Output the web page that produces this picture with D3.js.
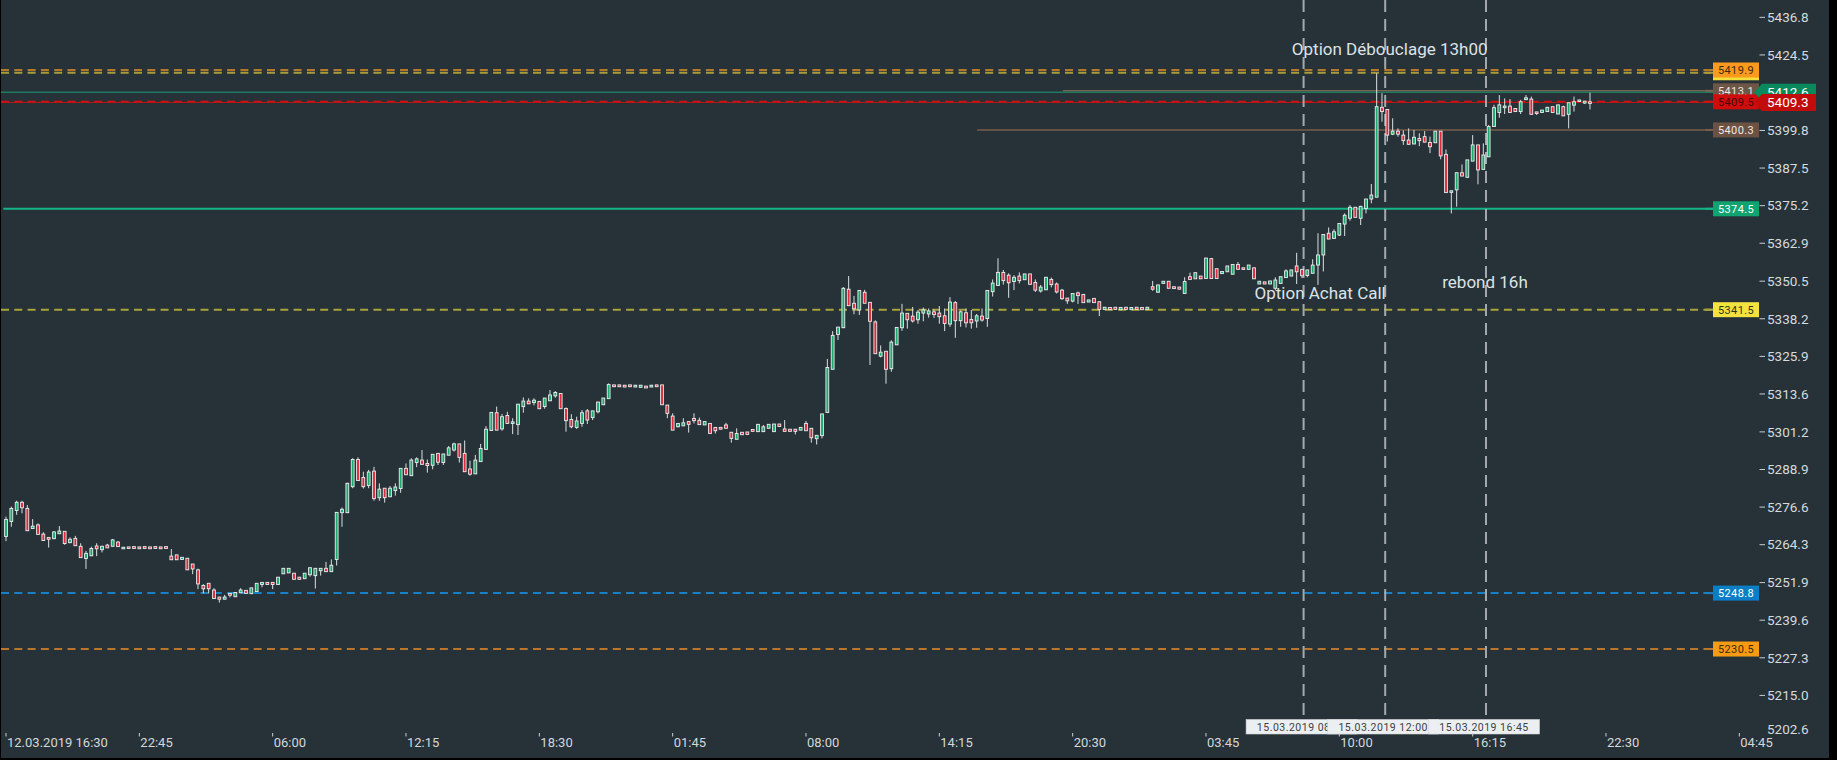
<!DOCTYPE html>
<html lang="fr">
<head>
    <meta charset="utf-8">
    <title>Candles 15 min</title>
    <script src="https://d3js.org/d3.v7.min.js"></script>
    <style>
        html, body { margin: 0; padding: 0; background: #000; }
        svg { display: block; font-family: Roboto, "Noto Sans", sans-serif; }
    </style>
</head>
<body>
<div id="chart"></div>
<script>
// Data: 15 min candles, 12.03.2019 16:30 onwards
const openVals = [
    5267.3,5272.2,5275.8,5278.5,5276.5,5269.9,5271.1,5268.1,5267.0,5266.6,
    5268.2,5269.0,5265.3,5266.7,5264.1,5260.1,5261.0,5264.2,5263.0,5264.5,
    5264.1,5265.5,5263.6,5263.9,5264.0,5263.9,5264.0,5263.9,5264.0,5263.9,
    5264.0,5260.9,5261.3,5259.8,5260.2,5258.3,5256.4,5251.3,5252.0,5249.8,
    5247.5,5246.8,5248.7,5247.6,5248.9,5249.7,5248.6,5249.3,5251.6,5252.3,
    5252.3,5251.6,5255.1,5255.4,5255.3,5254.0,5253.5,5254.8,5254.5,5256.1,
    5256.9,5255.8,5259.8,5275.1,5275.1,5283.6,5292.5,5286.6,5284.0,5288.7,
    5280.0,5283.1,5280.3,5282.3,5283.0,5289.6,5287.2,5291.5,5292.3,5291.2,
    5290.6,5294.5,5291.5,5293.9,5295.6,5297.6,5294.5,5289.4,5287.8,5291.8,
    5295.8,5302.0,5307.8,5302.5,5306.9,5304.6,5303.9,5309.8,5311.6,5311.1,
    5311.5,5309.8,5311.7,5313.3,5314.1,5309.2,5305.6,5303.0,5304.3,5308.4,
    5306.2,5308.1,5310.4,5312.4,5316.9,5316.9,5316.8,5316.9,5316.2,5316.1,
    5316.5,5316.2,5316.9,5316.9,5310.3,5306.7,5303.2,5303.5,5304.9,5305.9,
    5305.3,5303.8,5304.3,5303.0,5303.0,5303.8,5301.4,5299.1,5301.4,5301.5,
    5302.3,5301.6,5301.6,5302.7,5301.6,5304.1,5302.5,5302.4,5302.4,5302.1,
    5304.3,5302.7,5299.3,5300.3,5307.9,5322.0,5333.4,5335.6,5348.2,5343.6,
    5341.4,5347.2,5343.9,5337.5,5326.3,5327.9,5322.2,5330.0,5335.6,5340.3,
    5339.4,5338.2,5340.4,5340.1,5340.8,5340.4,5339.5,5336.8,5343.8,5337.9,
    5340.5,5338.3,5337.8,5339.4,5338.6,5347.4,5349.4,5353.7,5352.8,5350.7,
    5352.5,5351.3,5353.2,5350.4,5347.6,5348.0,5351.4,5349.9,5347.9,5345.3,
    5344.3,5347.0,5346.5,5344.0,5345.2,5344.1,5341.6,5342.2,5342.3,5341.5,
    5342.3,5341.5,5342.3,5342.2,5341.6,5349.0,5347.2,5350.1,5350.8,5349.0,
    5348.9,5346.8,5352.3,5351.6,5352.5,5351.7,5358.2,5354.9,5353.3,5353.9,
    5353.1,5356.3,5355.2,5354.7,5355.2,5349.9,5350.6,5349.9,5348.5,5350.1,
    5352.0,5352.5,5355.8,5354.7,5352.7,5353.4,5356.1,5359.4,5366.5,5364.8,
    5365.9,5369.5,5371.4,5375.0,5371.4,5374.6,5377.7,5378.3,5407.7,5407.0,
    5398.9,5399.9,5398.6,5397.0,5395.7,5397.5,5398.1,5396.2,5396.1,5399.9,
    5392.3,5380.0,5380.7,5386.3,5384.8,5390.1,5395.4,5387.4,5391.5,5401.4,
    5406.0,5407.9,5408.1,5407.3,5406.3,5410.2,5410.4,5406.2,5406.0,5406.3,
    5407.9,5405.5,5407.9,5405.4,5408.4,5409.6,5409.1,5409.5
];
const highVals = [
    5273.8,5277.1,5279.0,5279.0,5277.6,5273.0,5271.6,5268.7,5267.0,5269.1,
    5270.7,5269.0,5267.0,5267.5,5265.1,5262.6,5264.0,5265.1,5264.3,5264.9,
    5266.5,5265.8,5263.8,5263.9,5264.0,5263.9,5264.0,5263.9,5264.0,5263.9,
    5264.0,5263.2,5261.3,5260.5,5260.2,5258.3,5256.8,5251.7,5252.0,5250.4,
    5247.5,5248.2,5248.7,5249.0,5250.4,5249.7,5250.5,5252.0,5252.3,5252.3,
    5252.3,5254.0,5256.9,5256.9,5255.3,5254.0,5255.3,5257.1,5256.9,5256.9,
    5259.0,5259.8,5275.2,5276.8,5284.9,5292.9,5293.2,5288.5,5289.1,5290.1,
    5284.7,5283.1,5283.8,5284.7,5289.6,5291.2,5292.9,5293.2,5295.6,5292.5,
    5294.2,5294.5,5294.3,5296.9,5298.0,5297.6,5298.7,5292.1,5294.0,5297.6,
    5303.4,5307.9,5309.8,5307.4,5308.1,5306.0,5310.6,5312.8,5312.5,5312.5,
    5311.5,5312.6,5315.2,5314.9,5314.1,5309.5,5307.3,5306.5,5308.7,5309.0,
    5308.4,5311.3,5312.6,5317.4,5316.9,5316.9,5316.8,5316.9,5316.8,5316.8,
    5316.5,5316.8,5316.9,5316.9,5310.3,5307.6,5304.3,5306.0,5304.9,5307.6,
    5306.2,5304.9,5304.3,5303.0,5303.0,5304.5,5301.4,5302.7,5301.4,5301.5,
    5302.3,5304.0,5303.8,5304.0,5304.1,5304.1,5305.4,5302.4,5302.4,5303.0,
    5305.1,5302.7,5300.4,5307.4,5325.4,5334.5,5335.8,5348.9,5352.5,5346.0,
    5347.8,5348.0,5343.9,5338.0,5329.8,5327.9,5331.5,5335.7,5343.4,5340.3,
    5342.4,5341.4,5342.2,5341.9,5341.6,5342.7,5341.9,5345.6,5344.3,5341.2,
    5341.9,5341.4,5340.1,5341.9,5347.8,5351.4,5358.3,5354.5,5353.4,5352.8,
    5353.7,5353.2,5353.2,5351.4,5349.6,5352.1,5352.0,5350.4,5348.3,5345.3,
    5346.8,5347.4,5346.5,5344.7,5345.2,5344.1,5342.3,5342.2,5342.3,5342.2,
    5342.3,5342.2,5342.3,5342.2,5342.3,5350.9,5349.6,5350.8,5350.8,5349.0,
    5348.9,5352.1,5353.6,5353.6,5352.5,5358.4,5358.4,5354.9,5354.0,5355.8,
    5356.3,5357.1,5355.2,5356.1,5355.2,5350.8,5350.6,5350.9,5352.1,5352.3,
    5354.7,5354.5,5360.1,5354.7,5354.5,5358.0,5366.5,5366.1,5368.4,5367.8,
    5369.7,5373.0,5375.7,5375.0,5375.5,5377.7,5382.6,5418.8,5412.3,5407.0,
    5404.1,5400.8,5400.1,5400.8,5400.3,5399.2,5399.9,5398.1,5399.9,5399.9,
    5393.9,5380.4,5386.3,5389.0,5390.5,5398.6,5395.4,5395.9,5401.9,5408.5,
    5411.7,5410.6,5410.4,5407.3,5410.1,5411.7,5411.2,5406.2,5406.8,5407.7,
    5407.9,5408.5,5408.2,5409.2,5411.2,5410.1,5409.8,5412.5
];
const lowVals = [
    5265.8,5270.5,5274.4,5274.9,5269.2,5269.9,5268.0,5266.0,5263.7,5266.4,
    5268.2,5264.6,5265.1,5264.3,5260.4,5256.7,5260.9,5260.9,5262.1,5263.6,
    5264.1,5264.0,5263.6,5263.4,5263.4,5263.3,5263.4,5263.3,5263.4,5263.3,
    5263.4,5259.7,5259.7,5259.8,5256.4,5255.0,5250.1,5248.7,5248.7,5247.0,
    5245.7,5246.8,5247.4,5247.6,5248.9,5248.7,5248.6,5249.3,5250.7,5251.6,
    5250.1,5251.6,5255.1,5255.4,5253.3,5253.3,5253.5,5254.2,5250.3,5254.5,
    5255.8,5255.8,5257.8,5270.5,5275.1,5283.1,5285.6,5283.0,5283.1,5279.0,
    5279.0,5278.4,5280.3,5280.7,5281.6,5287.5,5287.2,5290.0,5290.9,5288.2,
    5289.3,5290.7,5290.7,5293.9,5295.1,5291.5,5288.5,5287.2,5287.8,5291.8,
    5295.8,5301.8,5302.1,5301.9,5304.3,5300.8,5300.5,5307.8,5310.7,5310.2,
    5309.1,5309.1,5311.7,5312.7,5309.1,5301.6,5302.7,5302.5,5303.2,5304.1,
    5305.4,5307.6,5310.4,5312.4,5316.3,5316.3,5316.2,5316.3,5316.2,5316.1,
    5315.9,5316.2,5316.3,5310.4,5306.0,5302.1,5303.0,5303.5,5301.3,5304.3,
    5303.9,5303.8,5301.0,5301.0,5302.4,5302.7,5298.0,5299.1,5300.6,5300.7,
    5301.7,5301.6,5301.6,5302.7,5301.6,5303.3,5301.7,5301.7,5300.7,5302.1,
    5301.9,5298.0,5297.4,5299.4,5307.9,5322.0,5331.6,5335.6,5342.8,5340.0,
    5339.8,5343.6,5323.4,5327.1,5325.9,5317.3,5321.2,5330.0,5334.6,5335.3,
    5337.3,5336.9,5337.7,5338.9,5338.8,5336.9,5334.5,5335.9,5332.3,5335.9,
    5335.7,5335.3,5335.6,5337.6,5335.9,5345.8,5349.4,5349.7,5345.4,5347.9,
    5350.1,5351.3,5349.8,5347.3,5347.1,5348.0,5348.8,5346.8,5344.7,5343.4,
    5343.9,5343.4,5343.8,5344.0,5343.8,5339.4,5341.6,5341.5,5341.6,5341.5,
    5341.6,5341.5,5341.6,5341.5,5341.6,5347.7,5347.2,5350.1,5348.5,5348.4,
    5348.2,5346.8,5351.4,5351.6,5351.6,5351.7,5351.7,5351.7,5353.3,5353.9,
    5353.1,5354.7,5354.7,5354.7,5351.6,5349.9,5349.9,5349.9,5347.9,5350.1,
    5352.0,5352.5,5349.9,5351.8,5352.1,5353.4,5349.6,5354.0,5364.6,5364.8,
    5365.6,5365.6,5370.6,5371.7,5369.2,5373.0,5376.3,5378.3,5403.0,5396.5,
    5398.6,5398.1,5395.4,5395.4,5395.7,5395.0,5396.3,5392.7,5396.1,5390.7,
    5379.8,5373.0,5375.2,5385.2,5384.8,5390.1,5382.5,5387.4,5391.5,5401.4,
    5404.3,5405.5,5406.0,5406.3,5405.5,5410.2,5405.4,5405.2,5406.0,5406.3,
    5406.0,5405.5,5404.9,5400.8,5406.3,5409.6,5408.8,5407.0
];
const closeVals = [
    5272.9,5276.5,5278.5,5276.7,5269.2,5270.7,5268.0,5266.0,5266.4,5268.8,
    5269.1,5265.0,5266.4,5264.3,5260.4,5261.8,5263.4,5263.3,5264.1,5263.6,
    5266.2,5264.0,5263.8,5263.4,5263.4,5263.3,5263.4,5263.3,5263.4,5263.3,
    5263.4,5259.7,5259.7,5260.5,5256.4,5256.7,5251.8,5250.2,5250.2,5247.0,
    5246.8,5247.5,5248.1,5249.0,5249.8,5248.7,5250.5,5252.0,5252.3,5251.6,
    5251.6,5254.0,5256.9,5256.9,5253.3,5253.3,5255.3,5257.1,5256.9,5256.9,
    5255.8,5257.9,5275.2,5276.2,5284.7,5292.5,5285.6,5283.6,5288.4,5279.7,
    5282.8,5280.0,5283.1,5283.5,5289.6,5287.5,5292.3,5292.7,5290.9,5290.5,
    5294.2,5291.6,5294.3,5296.3,5297.6,5293.2,5288.5,5287.7,5292.3,5296.1,
    5302.4,5307.9,5302.1,5306.5,5304.3,5304.8,5310.6,5311.6,5310.7,5311.9,
    5309.1,5312.6,5313.6,5314.4,5309.1,5305.2,5303.2,5305.1,5307.8,5305.4,
    5308.4,5311.3,5312.6,5317.0,5316.3,5316.3,5316.2,5316.3,5316.8,5316.8,
    5315.9,5316.8,5316.3,5310.4,5307.6,5302.1,5304.3,5304.5,5304.0,5305.2,
    5303.9,5304.9,5301.0,5301.9,5302.4,5302.7,5299.4,5301.0,5300.6,5300.7,
    5301.7,5304.0,5303.2,5304.0,5304.1,5303.3,5301.7,5301.7,5301.7,5303.0,
    5301.9,5299.6,5300.4,5307.4,5322.6,5333.1,5335.8,5348.5,5342.8,5341.8,
    5347.8,5343.6,5337.7,5327.1,5327.6,5322.0,5330.9,5335.7,5340.4,5338.2,
    5337.8,5340.7,5341.4,5341.1,5339.9,5339.2,5337.0,5344.0,5337.9,5340.8,
    5337.2,5337.2,5339.5,5338.1,5347.8,5350.2,5353.7,5351.0,5350.3,5352.1,
    5351.0,5353.2,5349.8,5347.9,5348.9,5352.1,5349.7,5347.3,5345.1,5344.4,
    5346.8,5346.1,5343.8,5344.7,5343.8,5341.6,5342.3,5341.5,5341.6,5342.2,
    5341.6,5342.2,5341.6,5341.5,5342.3,5348.2,5349.6,5350.8,5348.5,5348.4,
    5348.2,5350.7,5351.4,5353.6,5351.6,5358.4,5351.7,5351.7,5354.0,5355.8,
    5356.3,5354.7,5354.7,5356.1,5351.6,5350.8,5349.9,5350.9,5351.2,5352.3,
    5354.2,5354.5,5353.9,5352.6,5354.5,5356.1,5359.4,5366.1,5364.6,5367.0,
    5369.7,5372.4,5375.0,5371.7,5375.3,5377.7,5379.0,5407.9,5406.3,5398.6,
    5399.9,5398.9,5396.8,5395.6,5397.9,5396.8,5396.3,5394.8,5399.9,5391.8,
    5379.8,5380.4,5386.3,5385.2,5390.5,5395.4,5387.2,5392.1,5401.4,5407.6,
    5408.5,5408.1,5406.0,5406.3,5409.5,5410.8,5405.4,5405.8,5406.8,5407.7,
    5406.0,5408.5,5404.9,5409.2,5409.5,5410.1,5409.7,5409.3
];

// Axis labels (one time label every 25 bars)
const xTickLabels = ["12.03.2019 16:30", "22:45", "06:00", "12:15", "18:30", "01:45", "08:00",
    "14:15", "20:30", "03:45", "10:00", "16:15", "22:30", "04:45"];
const yTickLabels = ["5436.8", "5424.5", "5412.2", "5399.8", "5387.5", "5375.2", "5362.9", "5350.5",
    "5338.2", "5325.9", "5313.6", "5301.2", "5288.9", "5276.6", "5264.3", "5251.9", "5239.6",
    "5227.3", "5215.0", "5202.6"];

// Horizontal levels and the bar where each one starts (null = whole chart)
const levelValues = [5419.0, 5419.9, 5413.1, 5412.6, 5409.5, 5400.3, 5374.5, 5341.5, 5248.8, 5230.5];
const levelStart = [null, null, 198.2, null, null, 182.1, -0.5, null, null, null];

// Vertical markers (bar position) and their date labels
const markerBars = [243.3, 258.6, 277.5];
const markerLabels = ["15.03.2019 08:00", "15.03.2019 12:00", "15.03.2019 16:45"];

// Text notes
const noteTexts = ["Option Débouclage 13h00", "Option Achat Call", "rebond 16h"];
const noteBars = [241.1, 234.1, 269.3];
const noteValues = [5426.7, 5346.9, 5350.7];

// Styles
const levelStyles = [
    { stroke: "#a99c3a", dash: true,  box: "#f3df3b", text: "#3a3418" },
    { stroke: "#b4782b", dash: true,  box: "#fb9a1d", text: "#3d2a10" },
    { stroke: "#7c6453", dash: false, box: "#6e5647", text: "#ece4de" },
    { stroke: "#1e7b5d", dash: false, box: null },
    { stroke: "#d11212", dash: true,  box: "#cf0d0d", text: "#4a0808" },
    { stroke: "#7a5d4b", dash: false, box: "#6b5243", text: "#efe8e3" },
    { stroke: "#15b486", dash: false, box: "#10a473", text: "#ffffff" },
    { stroke: "#aaa23b", dash: true,  box: "#f4e33f", text: "#35321a" },
    { stroke: "#1a80c6", dash: true,  box: "#0b7ec6", text: "#ffffff" },
    { stroke: "#b9762c", dash: true,  box: "#f79b15", text: "#3d2a10" }
];
const bg = "#263238";
const upColor = "#1aa86c";
const downColor = "#dc2a3c";

const width = 1837, height = 760;
const plotRight = 1713;

const candles = openVals.map((o, i) => ({
    i: i, open: o, high: highVals[i], low: lowVals[i], close: closeVals[i]
}));

const svg = d3.select("#chart").append("svg")
    .attr("width", width)
    .attr("height", height);

svg.append("rect").attr("width", width).attr("height", height).attr("fill", "#000");
svg.append("rect").attr("x", 1).attr("y", 0).attr("width", 1828).attr("height", 758).attr("fill", bg);

// Scales (x in bar index units)
const xScale = d3.scaleLinear().domain([0, 325]).range([6, 6 + 325 * 5.3333]);
const yScale = d3.scaleLinear().domain([5442.8, 5194.2]).range([0, 760]);

// Level lines
const levels = svg.append("g");
levelValues.forEach((v, k) => {
    const st = levelStyles[k];
    const x0 = levelStart[k] === null ? 1 : xScale(levelStart[k]);
    levels.append("line")
        .attr("x1", x0).attr("x2", plotRight)
        .attr("y1", yScale(v)).attr("y2", yScale(v))
        .attr("stroke", st.stroke)
        .attr("stroke-width", st.dash ? 2 : (k === 6 ? 2 : 1.5))
        .attr("stroke-dasharray", st.dash ? "8,5.3" : null);
});

// Last price line
const lastClose = closeVals[closeVals.length - 1];
levels.append("line")
    .attr("x1", 1).attr("x2", plotRight)
    .attr("y1", yScale(lastClose)).attr("y2", yScale(lastClose))
    .attr("stroke", "#c21414").attr("stroke-width", 1);

// Vertical markers
svg.append("g").selectAll("line")
    .data(markerBars)
    .join("line")
    .attr("x1", d => xScale(d)).attr("x2", d => xScale(d))
    .attr("y1", 0).attr("y2", 719)
    .attr("stroke", "#b8bdc1")
    .attr("stroke-opacity", 0.85)
    .attr("stroke-width", 2)
    .attr("stroke-dasharray", "12,7");

// Candles
const gCandles = svg.append("g");
gCandles.selectAll("line")
    .data(candles)
    .join("line")
    .attr("x1", d => xScale(d.i)).attr("x2", d => xScale(d.i))
    .attr("y1", d => yScale(d.high)).attr("y2", d => yScale(d.low))
    .attr("stroke", "#dcdfe1")
    .attr("stroke-width", 1);

gCandles.selectAll("rect")
    .data(candles)
    .join("rect")
    .attr("x", d => xScale(d.i) - 1.4)
    .attr("width", 2.8)
    .attr("y", d => yScale(Math.max(d.open, d.close)))
    .attr("height", d => Math.max(1.6, Math.abs(yScale(d.open) - yScale(d.close))))
    .attr("fill", d => d.close >= d.open ? upColor : downColor)
    .attr("stroke", "#eceef0")
    .attr("stroke-width", 0.9);

// Notes
svg.append("g").selectAll("text")
    .data(noteTexts)
    .join("text")
    .attr("x", (d, k) => xScale(noteBars[k]))
    .attr("y", (d, k) => yScale(noteValues[k]) + 6)
    .attr("font-size", "17px")
    .attr("fill", "#dde2e5")
    .text(d => d);

// Marker date labels
const gMarks = svg.append("g");
markerBars.forEach((b, k) => {
    const cx = xScale(b) - 2;
    gMarks.append("rect")
        .attr("x", cx - 55.5).attr("y", 719.5)
        .attr("width", 111).attr("height", 14.5)
        .attr("fill", "#eceff1")
        .attr("stroke", "#cfd4d7").attr("stroke-width", 0.6);
    gMarks.append("text")
        .attr("x", cx).attr("y", 730.6)
        .attr("text-anchor", "middle")
        .attr("font-size", "10.5px")
        .attr("letter-spacing", "0.5px")
        .attr("fill", "#3b4045")
        .text(markerLabels[k]);
});

// X axis
const gx = svg.append("g");
xTickLabels.forEach((lab, k) => {
    const x = xScale(k * 25);
    gx.append("line")
        .attr("x1", x).attr("x2", x).attr("y1", 733).attr("y2", 736.5)
        .attr("stroke", "#c9cdd0").attr("stroke-width", 1);
    gx.append("text")
        .attr("x", x + 1).attr("y", 746.5)
        .attr("font-size", "13px")
        .attr("fill", "#d3d7da")
        .text(lab);
});

// Y axis
const gy = svg.append("g");
yTickLabels.forEach(lab => {
    const raw = yScale(+lab) - 1;
    const cy = Math.min(raw, 729);
    if (raw <= 729) {
        gy.append("line")
            .attr("x1", 1759.5).attr("x2", 1765).attr("y1", cy).attr("y2", cy)
            .attr("stroke", "#c9cdd0").attr("stroke-width", 1);
    }
    gy.append("text")
        .attr("x", 1767).attr("y", cy + 4.8)
        .attr("font-size", "13.5px")
        .attr("fill", "#d6dadd")
        .text(lab);
});

// Level boxes on the price scale
const gBoxes = svg.append("g");
levelValues.forEach((v, k) => {
    const st = levelStyles[k];
    if (!st.box) return;
    const cy = yScale(v);
    gBoxes.append("line")
        .attr("x1", 1705).attr("x2", 1713).attr("y1", cy).attr("y2", cy)
        .attr("stroke", st.stroke).attr("stroke-width", 2);
    gBoxes.append("rect")
        .attr("x", 1713).attr("y", cy - 7.5)
        .attr("width", 46).attr("height", 15)
        .attr("fill", st.box);
    gBoxes.append("text")
        .attr("x", 1736).attr("y", cy + 4)
        .attr("text-anchor", "middle")
        .attr("font-size", "11px")
        .attr("letter-spacing", "0.4px")
        .attr("fill", st.text)
        .text(d3.format(".1f")(v));
});

// Arrow price labels (previous close and last price)
function arrowLabel(value, fill) {
    const cy = yScale(value);
    const pts = [[1754, cy], [1762, cy - 8.5], [1816, cy - 8.5], [1816, cy + 8.5], [1762, cy + 8.5]];
    svg.append("polygon")
        .attr("points", pts.map(p => p.join(",")).join(" "))
        .attr("fill", fill);
    svg.append("text")
        .attr("x", 1767).attr("y", cy + 5)
        .attr("font-size", "13.5px")
        .attr("fill", "#ffffff")
        .text(d3.format(".1f")(value));
}
arrowLabel(levelValues[3], "#0a8a5c");
arrowLabel(lastClose, "#c20b0b");
</script>
</body>
</html>
